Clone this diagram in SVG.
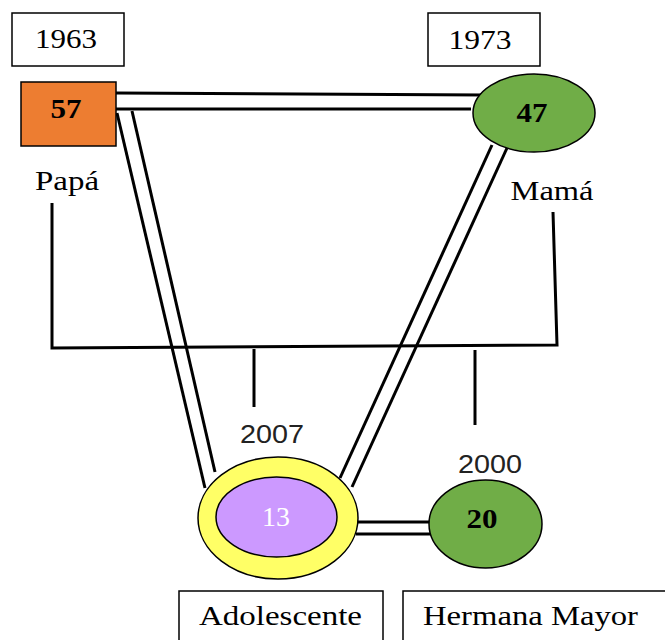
<svg xmlns="http://www.w3.org/2000/svg" width="665" height="640" viewBox="0 0 665 640">
<style>
.t{font-family:"Liberation Serif","Times New Roman",serif;font-size:27px;fill:#000;text-anchor:middle}
.s{font-family:"Liberation Sans",Arial,sans-serif;font-size:26px;fill:#222;text-anchor:middle}
.b{font-weight:bold}
.box{fill:#fff;stroke:#000;stroke-width:1.5}
.ln{stroke:#000;stroke-width:3;fill:none}
.nd{stroke:#000;stroke-width:1.5}
</style>
<rect width="665" height="640" fill="#fff"/>
<g id="connectors">
<line class="ln" x1="116" y1="93" x2="484" y2="95"/>
<line class="ln" x1="116" y1="109" x2="471" y2="109"/>
<line class="ln" x1="117" y1="113" x2="205" y2="488"/>
<line class="ln" x1="132" y1="111" x2="215" y2="472"/>
<line class="ln" x1="492" y1="145" x2="340" y2="478"/>
<line class="ln" x1="507" y1="148" x2="352" y2="487"/>
<line class="ln" x1="356" y1="522" x2="431" y2="522"/>
<line class="ln" x1="356" y1="534" x2="431" y2="534"/>
<polyline class="ln" points="52,203 52,348 557,345 553,212"/>
<line class="ln" x1="254" y1="349" x2="254" y2="407"/>
<line class="ln" x1="475" y1="350" x2="475" y2="425"/>
</g>
<g id="label-1963"><rect class="box" x="12" y="13" width="112" height="53"/><text class="t" x="66" y="48" textLength="62" lengthAdjust="spacingAndGlyphs">1963</text></g>
<g id="label-1973"><rect class="box" x="428" y="13" width="112" height="53"/><text class="t" x="480" y="49" textLength="63" lengthAdjust="spacingAndGlyphs">1973</text></g>
<g id="papa"><rect class="nd" x="21" y="82" width="95" height="64" fill="#ED7D31"/><text class="t b" x="66" y="118" textLength="31" lengthAdjust="spacingAndGlyphs">57</text><text class="t" x="67" y="190" textLength="64" lengthAdjust="spacingAndGlyphs">Papá</text></g>
<g id="mama"><ellipse class="nd" cx="534" cy="113" rx="61" ry="39" fill="#70AD47"/><text class="t b" x="532" y="122" textLength="31" lengthAdjust="spacingAndGlyphs">47</text><text class="t" x="552" y="200" textLength="83" lengthAdjust="spacingAndGlyphs">Mamá</text></g>
<g id="adolescente"><ellipse class="nd" cx="278" cy="518" rx="80" ry="61" fill="#FFFF66"/><ellipse class="nd" cx="276.5" cy="517" rx="60.5" ry="40" fill="#CC99FF"/><text class="t" x="276" y="526" fill="#fff" style="fill:#fff" textLength="28" lengthAdjust="spacingAndGlyphs">13</text><text class="s" x="272" y="443" textLength="64" lengthAdjust="spacingAndGlyphs">2007</text><rect class="box" x="179" y="591" width="204" height="60"/><text class="t" x="280.5" y="625" textLength="163" lengthAdjust="spacingAndGlyphs">Adolescente</text></g>
<g id="hermana"><ellipse class="nd" cx="485.5" cy="524" rx="56.5" ry="44" fill="#70AD47"/><text class="t b" x="482" y="528" textLength="31" lengthAdjust="spacingAndGlyphs">20</text><text class="s" x="490" y="473" textLength="64" lengthAdjust="spacingAndGlyphs">2000</text><rect class="box" x="403" y="591" width="270" height="60"/><text class="t" x="530.5" y="625" textLength="215" lengthAdjust="spacingAndGlyphs">Hermana Mayor</text></g>
</svg>
